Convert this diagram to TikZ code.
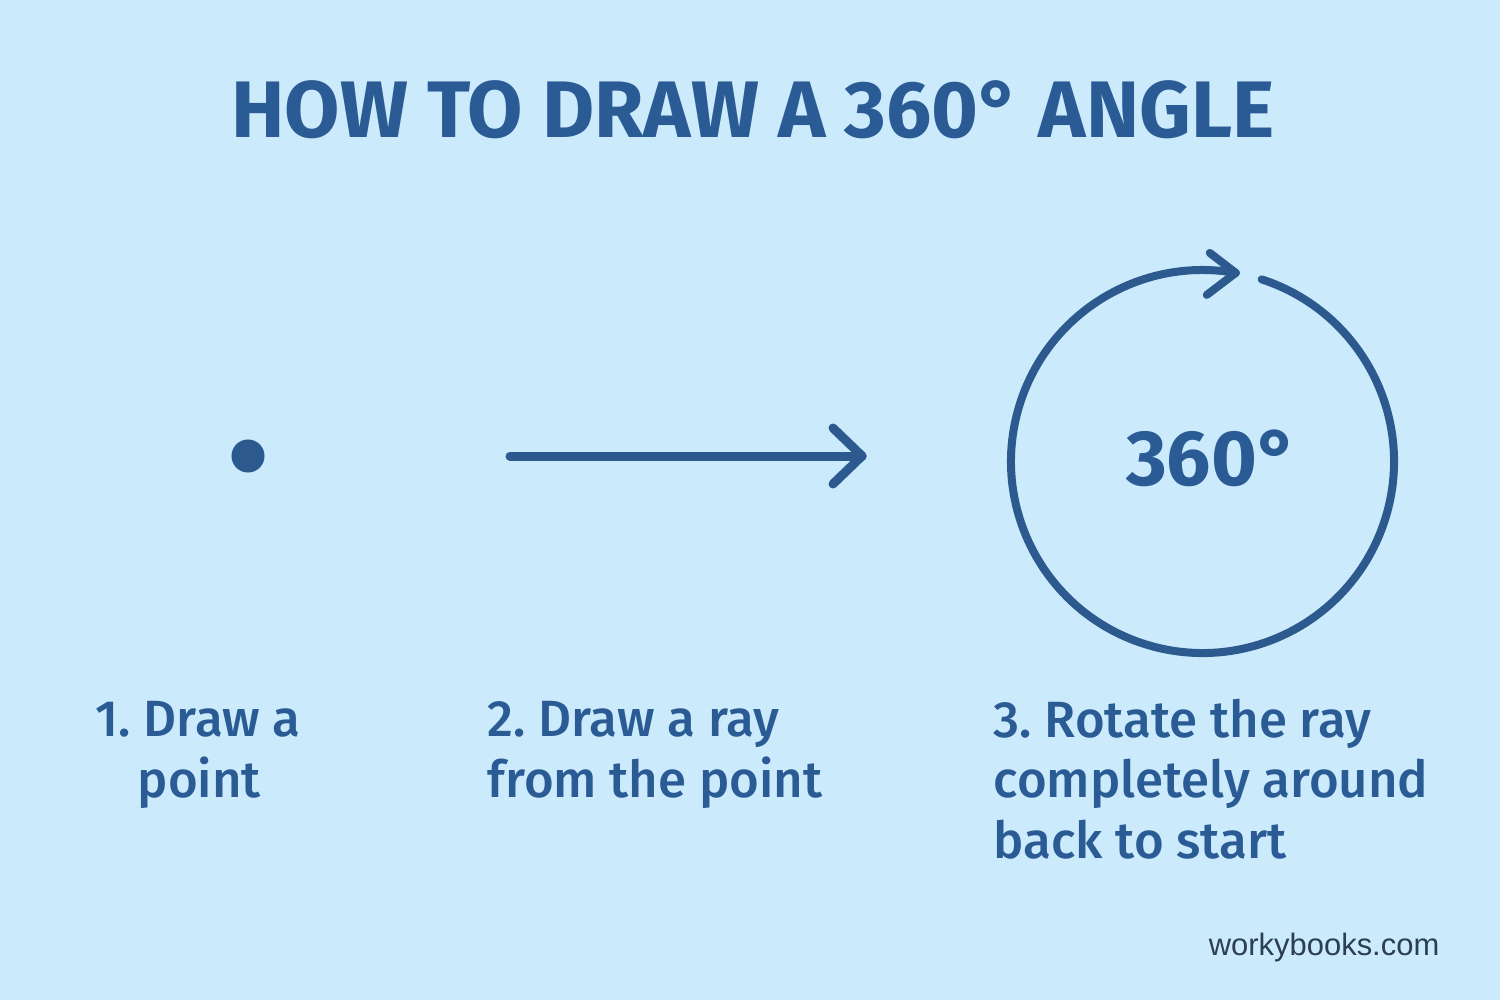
\documentclass[tikz,border=0pt]{standalone}
\usepackage{fontspec}
\usetikzlibrary{calc}
\setmainfont{Fira Sans}
\newfontfamily\medfont{Fira Sans Medium}
\newfontfamily\wmfont{Liberation Sans}
\definecolor{bg}{HTML}{CBEAFB}
\definecolor{ink}{HTML}{2C5A8E}
\definecolor{txt}{HTML}{2A5B94}
\definecolor{wm}{HTML}{2B3E52}
\frenchspacing
\begin{document}
\begin{tikzpicture}[x=0.01cm,y=-0.01cm, line cap=round, line join=round,
  raystroke/.style={draw=ink, line width=0.09cm},
  ringstroke/.style={draw=ink, line width=0.08cm},
  steplabel/.style={anchor=base west, align=left, text=txt, inner sep=0pt,
    font=\medfont\frenchspacing\fontsize{14.5}{17.1}\selectfont}]
\path[fill=bg] (0,0) rectangle (1500,1000);
% title
\node[anchor=base, inner sep=0pt, text=txt, font=\bfseries\fontsize{22.8}{27}\selectfont]
  (title) at (753,137) {HOW TO DRAW A 360° ANGLE};
% step 1: point
\node[circle, fill=ink, minimum size=0.33cm, inner sep=0pt] (pt) at (248,456) {};
% step 2: ray
\coordinate (rs) at (510,456);
\coordinate (re) at (862,456);
\draw[raystroke] (rs) -- (re);
\draw[raystroke] (re) -- ++(-29,-28);
\draw[raystroke] (re) -- ++(-29,28);
% step 3: full turn
\coordinate (c) at (1202.5,461.5);
\coordinate (tip) at ($(c)+(280:191.5)$);
\draw[ringstroke] (c) ++(-72:191.5) arc (-72:280:191.5);
\draw[ringstroke] (tip) -- ++(-26,-20);
\draw[ringstroke] (tip) -- ++(-29,22);
\node[anchor=base, inner sep=0pt, text=txt, font=\bfseries\fontsize{22.3}{28}\selectfont]
  (deg) at (1212,485) {360°};
% labels (base anchor = last line)
\node[steplabel] (l1) at (95,797) {1. Draw a\\\hspace*{0.42cm}point};
\node[steplabel] (l2) at (487,797) {2. Draw a ray\\from the point};
\node[steplabel] (l3) at (993,858) {3. Rotate the ray\\completely around\\back to start};
% watermark
\node[anchor=base east, inner sep=0pt, text=wm, font=\wmfont\fontsize{8.8}{10}\selectfont]
  (wmk) at (1440,955) {workybooks.com};
\end{tikzpicture}
\end{document}
